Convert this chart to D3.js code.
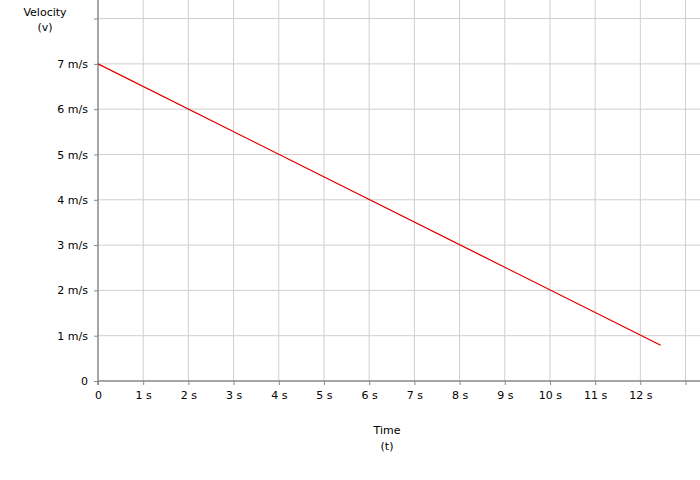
<!DOCTYPE html>
<html><head><meta charset="utf-8">
<script src="https://cdn.jsdelivr.net/npm/d3@7/dist/d3.min.js"></script>
<style>body{margin:0;background:#fff}svg text{font-family:"DejaVu Sans",sans-serif;font-size:11px;fill:#000}</style>
</head><body><svg id="c" width="700" height="480"></svg>
<script>
const times = [0, 12.45];
const velocities = [7, 0.79];
const xTicks = [0,1,2,3,4,5,6,7,8,9,10,11,12,13];
const xTickLabels = ["0","1 s","2 s","3 s","4 s","5 s","6 s","7 s","8 s","9 s","10 s","11 s","12 s",""];
const yTicks = [0,1,2,3,4,5,6,7,8];
const yTickLabels = ["0","1 m/s","2 m/s","3 m/s","4 m/s","5 m/s","6 m/s","7 m/s",""];

const svg = d3.select("#c");
const x = d3.scaleLinear().domain([0, 13.32]).range([98, 700]);
const y = d3.scaleLinear().domain([0, 8.41]).range([381, 0]);

// grid
svg.append("g").selectAll("line").data(xTicks.slice(1)).join("line")
  .attr("x1", d=>x(d)).attr("x2", d=>x(d)).attr("y1", 0).attr("y2", 381)
  .attr("stroke", "#cfcfcf").attr("stroke-width", 1);
svg.append("g").selectAll("line").data(yTicks.slice(1)).join("line")
  .attr("x1", 98).attr("x2", 700).attr("y1", d=>y(d)).attr("y2", d=>y(d))
  .attr("stroke", "#cfcfcf").attr("stroke-width", 1);

// axes
const xAxis = d3.axisBottom(x).tickValues(xTicks).tickFormat((d,i)=>xTickLabels[i]).tickSize(4).tickPadding(6);
const gx = svg.append("g").attr("transform", "translate(0,381)").call(xAxis);
gx.select(".domain").attr("stroke", "#888").attr("stroke-width", 1.5).attr("d", "M98,0H700");
gx.selectAll(".tick line").attr("stroke", "#888");
gx.selectAll(".tick text").attr("font-size", 11).attr("font-family", "DejaVu Sans").attr("fill","#000");

const yAxis = d3.axisLeft(y).tickValues(yTicks).tickFormat((d,i)=>yTickLabels[i]).tickSize(4).tickPadding(6);
const gy = svg.append("g").attr("transform", "translate(98,0)").call(yAxis);
gy.select(".domain").attr("stroke", "#888").attr("stroke-width", 1.5).attr("d", "M0,0V385");
gy.selectAll(".tick line").attr("stroke", "#888");
gy.selectAll(".tick text").attr("font-size", 11).attr("font-family", "DejaVu Sans").attr("fill","#000");

// line
const pts = times.map((t,i)=>[t, velocities[i]]);
svg.append("path").datum(pts)
  .attr("d", d3.line().x(d=>x(d[0])).y(d=>y(d[1])))
  .attr("fill","none").attr("stroke","#e00000").attr("stroke-width",1.3);

// titles
svg.append("text").attr("x", 45).attr("y", 16).attr("text-anchor","middle").text("Velocity");
svg.append("text").attr("x", 45).attr("y", 31).attr("text-anchor","middle").text("(v)");
svg.append("text").attr("x", 387).attr("y", 434).attr("text-anchor","middle").text("Time");
svg.append("text").attr("x", 387).attr("y", 450).attr("text-anchor","middle").text("(t)");
</script></body></html>
